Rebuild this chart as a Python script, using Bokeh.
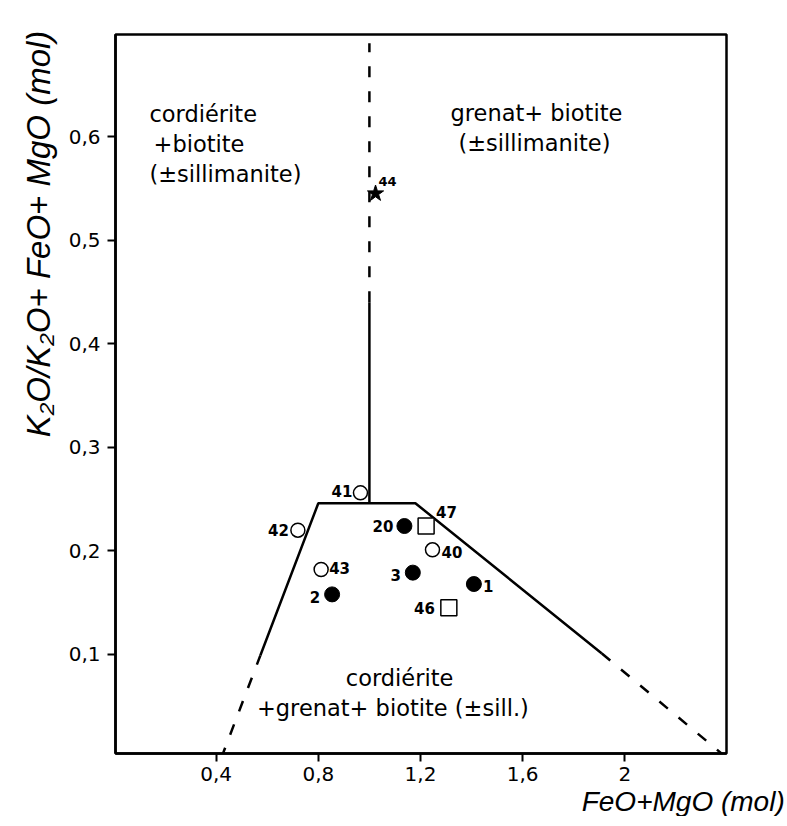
from bokeh.plotting import figure
from bokeh.models import Range1d, FixedTicker, Label, ColumnDataSource, Title
from bokeh.core.properties import value
from bokeh.embed import file_html
from bokeh.resources import INLINE

# ---------------- data ----------------
X_TICKS = [0.4, 0.8, 1.2, 1.6, 2.0]
X_TICK_LABELS = ["0,4", "0,8", "1,2", "1,6", "2"]
Y_TICKS = [0.1, 0.2, 0.3, 0.4, 0.5, 0.6]
Y_TICK_LABELS = ["0,1", "0,2", "0,3", "0,4", "0,5", "0,6"]

# filled circles
FILLED_ID = ["1", "2", "3", "20"]
FILLED_X = [1.409, 0.854, 1.170, 1.137]
FILLED_Y = [0.168, 0.158, 0.179, 0.224]

# open circles
OPEN_ID = ["40", "41", "42", "43"]
OPEN_X = [1.247, 0.965, 0.720, 0.811]
OPEN_Y = [0.201, 0.256, 0.220, 0.182]

# open squares
SQUARE_ID = ["46", "47"]
SQUARE_X = [1.311, 1.222]
SQUARE_Y = [0.145, 0.224]

# star
STAR_ID = ["44"]
STAR_X = [1.024]
STAR_Y = [0.545]

# field boundaries
SOLID_XS = [[0.573, 0.80, 1.18, 1.91], [1.0, 1.0]]
SOLID_YS = [[0.099, 0.246, 0.246, 0.101], [0.246, 0.44]]
DASHED_XS = [[0.42, 0.573], [1.91, 2.40], [1.0, 1.0]]
DASHED_YS = [[0.0, 0.099], [0.101, 0.0], [0.44, 0.69]]

# label placement (style): sample id -> (align, x_offset px, y_offset px)
LABEL_STYLE = {
    "1": ("left", 9, 2), "2": ("right", -12, 3), "3": ("right", -12, 2),
    "20": ("right", -11, 0), "40": ("left", 9, 2), "41": ("right", -8, -2),
    "42": ("right", -9, 0), "43": ("left", 8, -2), "46": ("right", -14, 0),
    "47": ("left", 10, -14), "44": ("left", 3, -12),
}

# ---------------- figure ----------------
p = figure(
    x_range=Range1d(0.006, 2.398), y_range=Range1d(0.0044, 0.6985),
    frame_width=611, frame_height=719,
    min_border_left=115, min_border_right=61, min_border_top=34, min_border_bottom=0,
    output_backend="svg", toolbar_location=None,
)
p.background_fill_color = "white"
p.border_fill_color = "white"
p.outline_line_color = "black"
p.outline_line_width = 2.5
p.xgrid.visible = False
p.ygrid.visible = False

for ax, ticks, labels in ((p.xaxis[0], X_TICKS, X_TICK_LABELS), (p.yaxis[0], Y_TICKS, Y_TICK_LABELS)):
    ax.ticker = FixedTicker(ticks=ticks)
    ax.major_label_overrides = {t: l for t, l in zip(ticks, labels)}
    ax.axis_line_width = 2.5
    ax.axis_line_color = "black"
    ax.major_tick_line_width = 2
    ax.major_tick_line_color = "black"
    ax.major_tick_in = 0
    ax.major_tick_out = 8
    ax.minor_tick_line_color = None
    ax.major_label_text_font = "DejaVu Sans"
    ax.major_label_text_font_size = "20px"
    ax.major_label_text_color = "black"
p.xaxis.major_label_standoff = 5
p.yaxis.major_label_standoff = 7

# boundaries
p.multi_line(SOLID_XS, SOLID_YS, line_color="black", line_width=2.5)
p.multi_line(DASHED_XS, DASHED_YS, line_color="black", line_width=2.5, line_dash="11 14")

# markers
p.scatter(FILLED_X, FILLED_Y, marker="circle", size=15, fill_color="black", line_color="black")
p.scatter(OPEN_X, OPEN_Y, marker="circle", size=14, fill_color="white", line_color="black", line_width=1.5)
p.scatter(SQUARE_X, SQUARE_Y, marker="square", size=16, fill_color="white", line_color="black", line_width=1.5)
p.scatter(STAR_X, STAR_Y, marker="star", size=17, fill_color="black", line_color="black")

# point labels
ids = FILLED_ID + OPEN_ID + SQUARE_ID + STAR_ID
xs = FILLED_X + OPEN_X + SQUARE_X + STAR_X
ys = FILLED_Y + OPEN_Y + SQUARE_Y + STAR_Y
src = ColumnDataSource(dict(
    x=xs, y=ys, text=ids,
    align=[LABEL_STYLE[i][0] for i in ids],
    xo=[LABEL_STYLE[i][1] for i in ids],
    yo=[LABEL_STYLE[i][2] for i in ids],
    fs=["13px" if i == "44" else "15px" for i in ids],
))
p.text(x="x", y="y", text="text", source=src, x_offset="xo", y_offset="yo",
       text_align="align", text_baseline="middle",
       text_font=value("DejaVu Sans"), text_font_style="bold",
       text_font_size="fs", text_color="black")

# field names
def field(txt, x, y, align):
    p.add_layout(Label(x=x, y=y, text=txt, text_align=align, text_baseline="middle",
                       text_font="DejaVu Sans", text_font_size="22.5px", text_color="black"))

field("cordiérite", 0.139, 0.622, "left")
field("+biotite", 0.155, 0.593, "left")
field("(±sillimanite)", 0.139, 0.564, "left")
field("grenat+ biotite", 1.654, 0.623, "center")
field("(±sillimanite)", 1.646, 0.594, "center")
field("cordiérite", 1.118, 0.077, "center")
field("+grenat+ biotite (±sill.)", 1.092, 0.048, "center")

# axis titles
xt = Title(text="FeO+MgO  (mol)", align="right", offset=-66, standoff=0,
           text_font="Liberation Sans", text_font_style="italic",
           text_font_size="28px", text_color="black")
p.add_layout(xt, "below")
yt = Title(text="K₂O/K₂O+ FeO+ MgO  (mol)", align="right", offset=-13, standoff=18,
           text_font="Liberation Sans", text_font_style="italic",
           text_font_size="33px", text_color="black")
p.add_layout(yt, "left")

open("out.html", "w").write(file_html(p, INLINE))
